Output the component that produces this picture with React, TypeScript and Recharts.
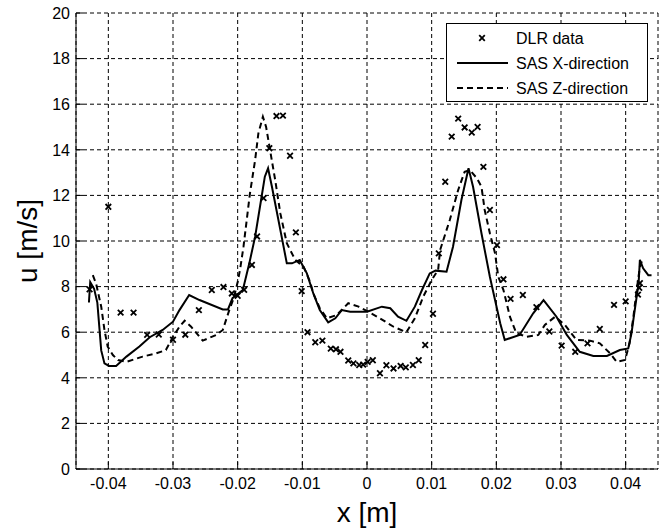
import React from 'react';
import { ComposedChart, Line, Scatter, XAxis, YAxis, CartesianGrid, Legend } from 'recharts';

// DLR measurements (x in m, u in m/s)
const dlrX = [-0.0429, -0.0400, -0.0381, -0.0361, -0.0340, -0.0322, -0.0300, -0.0281, -0.0260, -0.0240, -0.0222, -0.0209, -0.0200, -0.0190, -0.0178, -0.0170, -0.0160, -0.0151, -0.0140, -0.0130, -0.0119, -0.0110, -0.0101, -0.0092, -0.0080, -0.0069, -0.0056, -0.0048, -0.0041, -0.0029, -0.0021, -0.0012, -0.0006, 0.0001, 0.0009, 0.0020, 0.0030, 0.0041, 0.0052, 0.0060, 0.0071, 0.0080, 0.0090, 0.0102, 0.0111, 0.0121, 0.0131, 0.0141, 0.0151, 0.0162, 0.0171, 0.0180, 0.0190, 0.0201, 0.0211, 0.0222, 0.0241, 0.0262, 0.0282, 0.0301, 0.0322, 0.0341, 0.0360, 0.0382, 0.0400, 0.0419, 0.0421, 0.0422];
const dlrU = [7.88, 11.5, 6.86, 6.86, 5.88, 5.9, 5.67, 5.89, 6.97, 7.85, 7.98, 7.7, 7.6, 7.86, 8.95, 10.2, 11.88, 14.07, 15.48, 15.5, 13.74, 10.38, 7.8, 6.0, 5.56, 5.63, 5.28, 5.25, 5.14, 4.76, 4.63, 4.56, 4.58, 4.7, 4.77, 4.2, 4.55, 4.41, 4.52, 4.46, 4.56, 4.77, 5.44, 6.81, 9.46, 12.6, 14.58, 15.37, 14.98, 14.76, 15.0, 13.25, 11.36, 9.82, 8.32, 7.46, 7.63, 7.1, 6.03, 5.41, 5.14, 5.51, 6.14, 7.2, 7.35, 7.65, 7.95, 8.15];

// SAS X-direction
const sasXx = [-0.0430, -0.0428, -0.0422, -0.0417, -0.0411, -0.0406, -0.0399, -0.0388, -0.0372, -0.0352, -0.0336, -0.0316, -0.0300, -0.0290, -0.0275, -0.0259, -0.0223, -0.0215, -0.0208, -0.0192, -0.0182, -0.0173, -0.0163, -0.0158, -0.0153, -0.0147, -0.0140, -0.0132, -0.0124, -0.0116, -0.0104, -0.0093, -0.0083, -0.0073, -0.0060, -0.0049, -0.0039, -0.0026, 0.0000, 0.0023, 0.0036, 0.0048, 0.0061, 0.0074, 0.0085, 0.0097, 0.0106, 0.0123, 0.0133, 0.0146, 0.0157, 0.0164, 0.0177, 0.0190, 0.0198, 0.0206, 0.0213, 0.0236, 0.0257, 0.0273, 0.0293, 0.0309, 0.0329, 0.0350, 0.0371, 0.0391, 0.0404, 0.0409, 0.0414, 0.0420, 0.0422, 0.0427, 0.0435, 0.0440];
const sasXu = [7.3, 8.2, 7.9, 7.3, 5.2, 4.63, 4.52, 4.52, 4.93, 5.37, 5.78, 6.1, 6.46, 6.97, 7.63, 7.41, 7.0, 7.0, 7.49, 7.85, 9.02, 10.19, 11.94, 12.82, 13.19, 12.38, 11.36, 10.19, 9.02, 9.02, 9.17, 8.58, 7.7, 6.97, 6.43, 6.61, 6.97, 6.9, 6.9, 7.12, 7.05, 6.68, 6.5, 7.12, 7.85, 8.58, 8.7, 8.65, 9.75, 11.8, 13.19, 12.38, 10.34, 8.43, 7.41, 6.39, 5.66, 5.88, 6.83, 7.41, 6.68, 5.88, 5.14, 4.96, 4.96, 5.22, 5.29, 5.95, 6.97, 8.14, 9.17, 8.8, 8.5, 8.5];

// SAS Z-direction
const sasZx = [-0.0424, -0.0419, -0.0411, -0.0406, -0.0401, -0.0393, -0.0385, -0.0372, -0.0347, -0.0326, -0.0311, -0.0300, -0.0290, -0.0282, -0.0272, -0.0254, -0.0233, -0.0223, -0.0213, -0.0206, -0.0200, -0.0196, -0.0191, -0.0186, -0.0181, -0.0173, -0.0168, -0.0161, -0.0156, -0.0150, -0.0142, -0.0134, -0.0124, -0.0111, -0.0098, -0.0088, -0.0083, -0.0073, -0.0062, -0.0047, -0.0029, -0.0013, 0.0002, 0.0020, 0.0041, 0.0061, 0.0074, 0.0087, 0.0100, 0.0110, 0.0113, 0.0128, 0.0141, 0.0151, 0.0159, 0.0170, 0.0177, 0.0182, 0.0190, 0.0198, 0.0203, 0.0211, 0.0221, 0.0231, 0.0247, 0.0265, 0.0275, 0.0291, 0.0306, 0.0324, 0.0345, 0.0360, 0.0376, 0.0386, 0.0399, 0.0406, 0.0412, 0.0417, 0.0422, 0.0425];
const sasZu = [8.5, 8.14, 7.12, 6.1, 5.37, 5.0, 4.78, 4.7, 4.93, 5.07, 5.22, 5.8, 6.24, 6.5, 6.24, 5.63, 5.88, 6.1, 6.97, 7.5, 8.2, 8.8, 9.75, 10.92, 12.09, 13.55, 14.72, 15.45, 15.0, 14.0, 12.68, 11.21, 9.9, 9.17, 8.87, 8.21, 7.7, 7.05, 6.61, 6.75, 7.27, 7.12, 6.9, 6.61, 6.24, 6.0, 6.61, 7.56, 8.29, 8.73, 9.6, 10.92, 12.24, 13.04, 13.11, 12.75, 12.38, 11.36, 10.34, 9.46, 8.43, 7.85, 6.68, 5.95, 5.8, 5.88, 6.32, 6.68, 6.32, 5.66, 5.63, 5.51, 5.07, 4.7, 4.78, 5.51, 6.68, 7.85, 8.87, 9.1];

const xTicks = [-0.04, -0.03, -0.02, -0.01, 0, 0.01, 0.02, 0.03, 0.04];
const yTicks = [0, 2, 4, 6, 8, 10, 12, 14, 16, 18, 20];

const dlr = dlrX.map((x, i) => ({ x, y: dlrU[i] }));
const sasX = sasXx.map((x, i) => ({ x, y: sasXu[i] }));
const sasZ = sasZx.map((x, i) => ({ x, y: sasZu[i] }));

const font = '"Liberation Sans", Arial, sans-serif';
const TL = 7;

const fmtX = (v: number) => (v === 0 ? '0' : v.toFixed(2));

const BottomTick = (props: any) => {
  const { x, y, payload } = props;
  return (
    <g>
      <line x1={x} y1={y} x2={x} y2={y - TL} stroke="#000" />
      <text x={x} y={y + 9} dy="0.71em" textAnchor="middle" fontSize={16} fontFamily={font} fill="#000">
        {fmtX(payload.value)}
      </text>
    </g>
  );
};

const TopTick = (props: any) => {
  const { x, y } = props;
  return <line x1={x} y1={y} x2={x} y2={y + TL} stroke="#000" />;
};

const LeftTick = (props: any) => {
  const { x, y, payload } = props;
  return (
    <g>
      <line x1={x} y1={y} x2={x + TL} y2={y} stroke="#000" />
      <text x={x - 6} y={y} dy="0.36em" textAnchor="end" fontSize={16} fontFamily={font} fill="#000">
        {payload.value}
      </text>
    </g>
  );
};

const RightTick = (props: any) => {
  const { x, y } = props;
  return <line x1={x} y1={y} x2={x - TL} y2={y} stroke="#000" />;
};

const Cross = (props: any) => {
  const { cx, cy } = props;
  const s = 2.8;
  return (
    <path
      d={`M${cx - s},${cy - s}L${cx + s},${cy + s}M${cx - s},${cy + s}L${cx + s},${cy - s}`}
      stroke="#000"
      strokeWidth={1.8}
      fill="none"
    />
  );
};

const LegendBox = () => (
  <svg width={202} height={79} style={{ display: 'block' }}>
    <rect x={0.5} y={0.5} width={201} height={78} fill="#fff" stroke="#000" />
    <Cross cx={36} cy={15} />
    <text x={70} y={21} fontSize={16} fontFamily={font} fill="#000">DLR data</text>
    <line x1={11} y1={40} x2={62} y2={40} stroke="#000" strokeWidth={2} />
    <text x={70} y={46} fontSize={16} fontFamily={font} fill="#000">SAS X-direction</text>
    <line x1={11} y1={65} x2={62} y2={65} stroke="#000" strokeWidth={2} strokeDasharray="6 4" />
    <text x={70} y={71} fontSize={16} fontFamily={font} fill="#000">SAS Z-direction</text>
  </svg>
);

export default function App() {
  return (
    <div style={{ position: 'absolute', left: 0, top: 0, width: 667, height: 531, background: '#fff' }}>
      <ComposedChart width={667} height={531} margin={{ top: 13, right: 9, left: 36, bottom: 22 }}>
        <CartesianGrid stroke="#000" strokeDasharray="4 3" />
        <XAxis
          dataKey="x"
          type="number"
          domain={[-0.045, 0.045]}
          ticks={xTicks}
          allowDataOverflow
          height={40}
          tickSize={0}
          tickMargin={0}
          axisLine={{ stroke: '#000' }}
          tick={<BottomTick />}
          interval={0}
          label={{
            content: () => (
              <text x={367} y={522} textAnchor="middle" fontSize={28} fontFamily={font} fill="#000">
                x [m]
              </text>
            ),
          }}
        />
        <XAxis
          xAxisId="top"
          orientation="top"
          type="number"
          dataKey="x"
          domain={[-0.045, 0.045]}
          ticks={xTicks}
          allowDataOverflow
          height={0}
          tickSize={0}
          tickMargin={0}
          axisLine={{ stroke: '#000' }}
          tick={<TopTick />}
          interval={0}
        />
        <YAxis
          type="number"
          domain={[0, 20]}
          ticks={yTicks}
          allowDataOverflow
          width={40}
          tickSize={0}
          tickMargin={0}
          axisLine={{ stroke: '#000' }}
          tick={<LeftTick />}
          interval={0}
          label={{
            content: () => (
              <text x={37} y={241} transform="rotate(-90 37 241)" textAnchor="middle" fontSize={28} fontFamily={font} fill="#000">
                u [m/s]
              </text>
            ),
          }}
        />
        <YAxis
          yAxisId="right"
          orientation="right"
          type="number"
          domain={[0, 20]}
          ticks={yTicks}
          allowDataOverflow
          width={0}
          tickSize={0}
          tickMargin={0}
          axisLine={{ stroke: '#000' }}
          tick={<RightTick />}
          interval={0}
        />
        <Scatter data={dlr} dataKey="y" shape={<Cross />} isAnimationActive={false} legendType="none" />
        <Line data={sasX} dataKey="y" type="linear" stroke="#000" strokeWidth={2} dot={false} isAnimationActive={false} />
        <Line data={sasZ} dataKey="y" type="linear" stroke="#000" strokeWidth={2} strokeDasharray="6 4" dot={false} isAnimationActive={false} />
        <Legend
          layout="vertical"
          align="center"
          verticalAlign="middle"
          content={<LegendBox />}
          wrapperStyle={{ left: 446, top: 23, width: 202, height: 79 }}
        />
      </ComposedChart>
    </div>
  );
}
